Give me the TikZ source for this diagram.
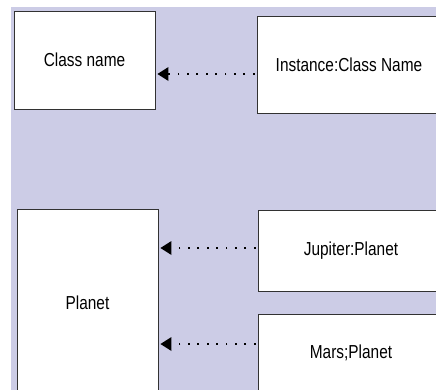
\documentclass[tikz,border=0pt]{standalone}
\usepackage{fontspec}
\setmainfont{Liberation Sans}[FakeStretch=0.82]
\usetikzlibrary{arrows.meta}
\definecolor{bgc}{RGB}{204,204,230}
\definecolor{edge}{RGB}{50,50,50}
\tikzset{
  box/.style={draw=edge, line width=0.9pt, fill=white, inner sep=0pt, font=\fontsize{18.8}{22}\selectfont},
  dep/.style={line width=1.8pt, dash pattern=on 1.8pt off 7.6pt, -{Triangle[length=11pt,width=14pt,line width=0pt]}}
}
\begin{document}
\begin{tikzpicture}[x=1pt,y=-1pt]
\useasboundingbox (0,0) rectangle (436,389);
\clip (0,0) rectangle (436,389);
\fill[bgc] (11,7) rectangle (440,392);
\node[box, minimum width=141pt, minimum height=98pt] (cls) at (84.5,60) {Class name};
\node[box, minimum width=184pt, minimum height=97pt] (inst) at (349,64.5) {Instance:Class Name};
\node[box, minimum width=141pt, minimum height=188pt] (planet) at (87.5,303) {Planet};
\node[box, minimum width=186pt, minimum height=81pt] (jup) at (351,250.5) {Jupiter:Planet};
\node[box, minimum width=186pt, minimum height=78pt] (mars) at (351,353) {Mars;Planet};
\coordinate (a1) at (0,74);
\coordinate (a2) at (0,248);
\coordinate (a3) at (0,344);
\draw[dep] ([xshift=-2pt]inst.west |- a1) -- ([xshift=2pt]cls.east |- a1);
\draw[dep] ([xshift=-2pt]jup.west |- a2) -- ([xshift=2pt]planet.east |- a2);
\draw[dep] ([xshift=-2pt]mars.west |- a3) -- ([xshift=2pt]planet.east |- a3);
\end{tikzpicture}
\end{document}
